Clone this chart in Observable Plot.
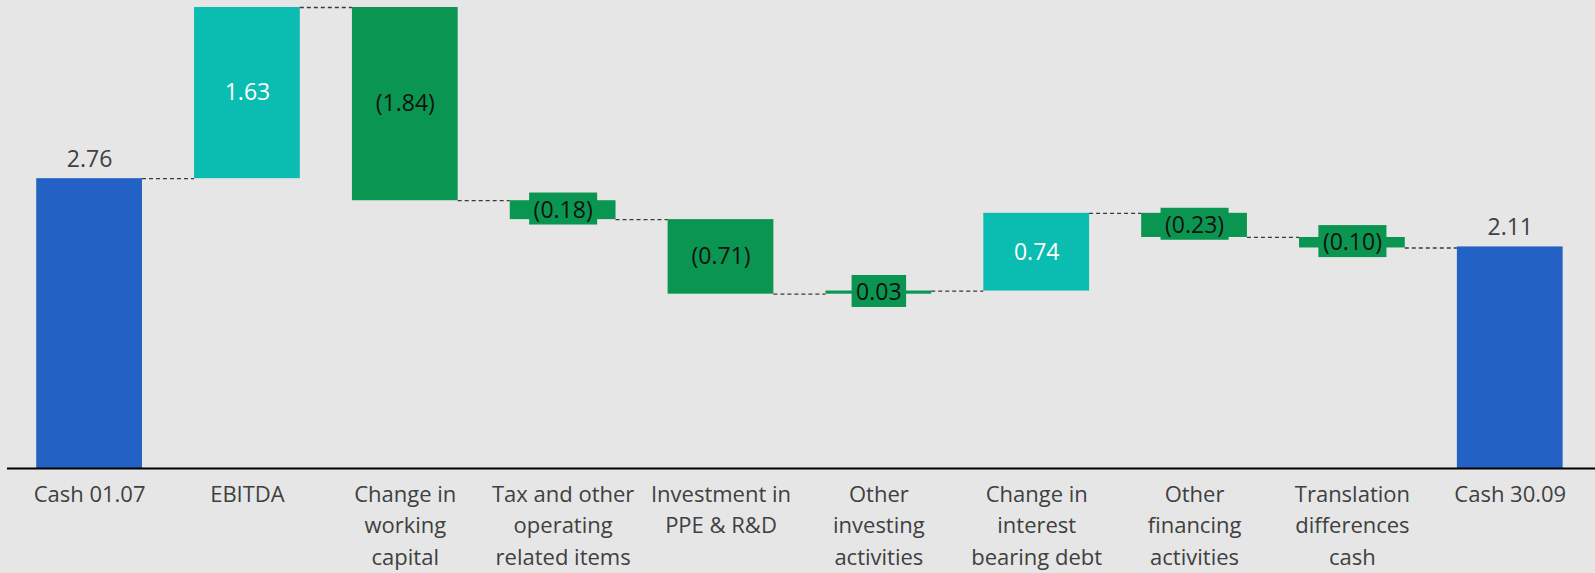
<!DOCTYPE html>
<html><head><meta charset="utf-8">
<script src="https://cdn.jsdelivr.net/npm/d3@7"></script>
<script src="https://cdn.jsdelivr.net/npm/@observablehq/plot@0.6"></script>
<style>
html,body{margin:0;padding:0;background:#e6e6e6;}
#chart{width:1595px;height:573px;overflow:hidden;}
</style>
</head><body><div id="chart"></div>
<script>
const categories = ["Cash 01.07","EBITDA","Change in\nworking\ncapital","Tax and other\noperating\nrelated items","Investment in\nPPE & R&D","Other\ninvesting\nactivities","Change in\ninterest\nbearing debt","Other\nfinancing\nactivities","Translation\ndifferences\ncash","Cash 30.09"];
const values = [2.76, 1.63, -1.84, -0.18, -0.71, 0.03, 0.74, -0.23, -0.10, 2.11];
const kinds = ["total","increase","decrease","decrease","decrease","decrease","increase","decrease","decrease","total"];
const colors = {total:"#2362c4", increase:"#0abdb0", decrease:"#0a9651"};
const textColors = {total:"#404040", increase:"#ffffff", decrease:"#111111"};

const hw = 0.335;
let level = 0;
const rows = values.map((v,i)=>{
  let y1,y2;
  if (kinds[i]==="total"){ y1=0; y2=v; }
  else { y1=level; y2=level+v; }
  level = y2;
  return {i, name:categories[i], value:v, kind:kinds[i], y1, y2, end:y2};
});
const conns = rows.slice(0,-1).map(d=>({from:d.i+hw, to:d.i+1-hw, level:d.end}));
const fmt = v => v<0 ? `(${(-v).toFixed(2)})` : v.toFixed(2);
const deltas = rows.filter(d=>d.kind!=="total");
const totals = rows.filter(d=>d.kind==="total");
const FONT = "'Open Sans', sans-serif";

const svg = Plot.plot({
  width:1595, height:573,
  marginLeft:7, marginRight:0, marginTop:7, marginBottom:105,
  style:{background:"#e6e6e6", fontFamily:FONT},
  x:{type:"linear", domain:[-0.52, 9.54], axis:null},
  y:{domain:[0,4.39], axis:null},
  marks:[
    Plot.rectY(rows,{x1:d=>d.i-hw, x2:d=>d.i+hw, y1:"y1", y2:"y2", fill:d=>colors[d.kind]}),
    Plot.ruleY(conns,{y:"level", x1:"from", x2:"to", stroke:"#3a3a3a", strokeWidth:1.3, strokeDasharray:"4,3"}),
    Plot.ruleY([0],{stroke:"#000", strokeWidth:1.8}),
    Plot.text(deltas,{x:"i", y:d=>(d.y1+d.y2)/2, text:d=>fmt(d.value), fill:d=>textColors[d.kind], fontSize:23, className:"delta-labels"}),
    Plot.text(totals,{x:"i", y:"value", text:d=>fmt(d.value), fill:"#404040", fontSize:23, lineAnchor:"bottom", dy:-12}),
    Plot.axisX({ticks:d3.range(categories.length), tickFormat:i=>categories[i], tickSize:0, tickPadding:11, fontSize:22, lineHeight:1.43, fill:"#404040", color:"#404040"})
  ]
});
document.getElementById("chart").appendChild(svg);

let g = svg.querySelector('g.delta-labels');
if (!g) g = svg.querySelector('g[aria-label="text"]');
if (g) {
  const texts = g.querySelectorAll("text");
  texts.forEach((t,k)=>{
    const bb = t.getBBox();
    const r = document.createElementNS("http://www.w3.org/2000/svg","rect");
    r.setAttribute("x", bb.x-4.5);
    r.setAttribute("y", bb.y);
    r.setAttribute("width", bb.width+9);
    r.setAttribute("height", bb.height);
    const tr = t.getAttribute("transform");
    if (tr) r.setAttribute("transform", tr);
    r.setAttribute("fill", colors[deltas[k].kind]);
    r.setAttribute("stroke", "none");
    t.parentNode.insertBefore(r, t);
  });
}
</script>
</body></html>
